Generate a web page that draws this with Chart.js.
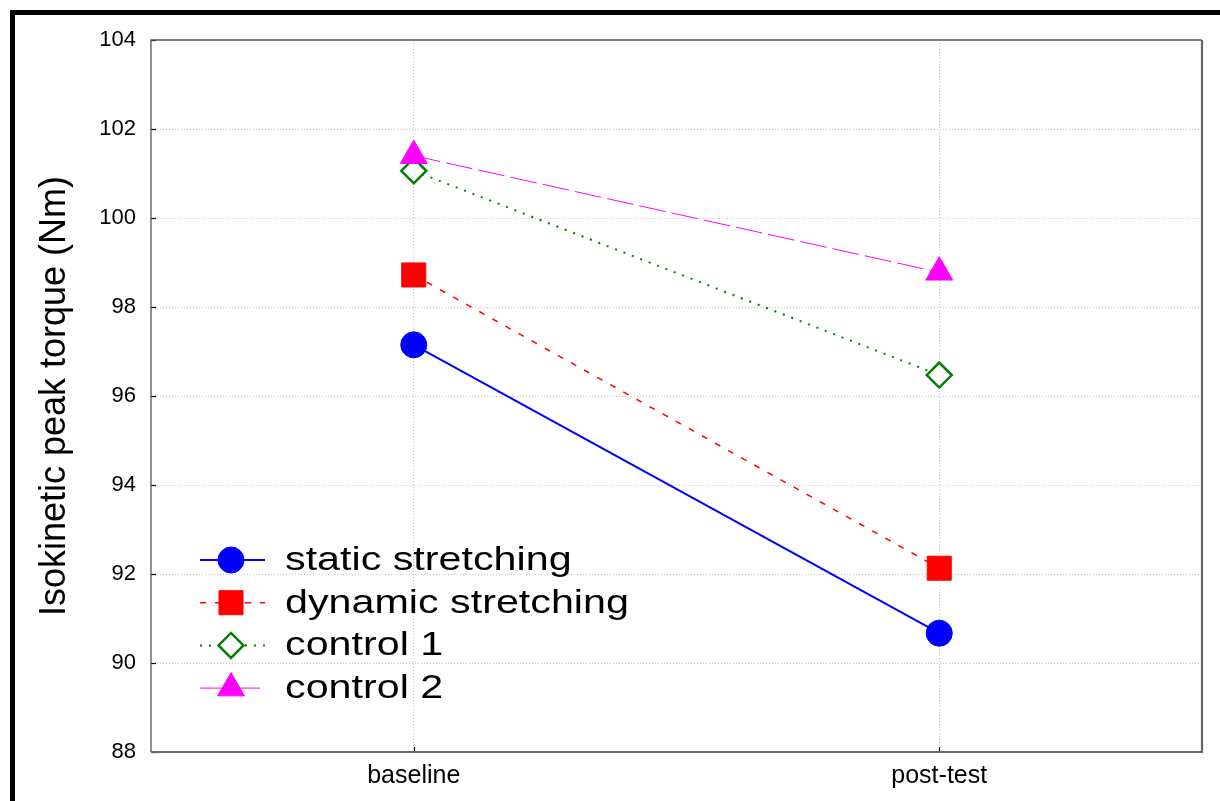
<!DOCTYPE html>
<html>
<head>
<meta charset="utf-8">
<script src="https://cdn.jsdelivr.net/npm/chart.js@4/dist/chart.umd.min.js"></script>
<style>
  html, body { margin: 0; padding: 0; background: #fff; }
  #wrap { position: relative; width: 1220px; height: 801px; overflow: hidden; }
  #frame { position: absolute; left: 10px; top: 10px; width: 1215px; height: 796px;
           border-left: 5px solid #000; border-top: 5px solid #000; pointer-events: none; box-sizing: border-box; }
  canvas { position: absolute; left: 0; top: 0; }
</style>
</head>
<body>
<div id="wrap">
  <canvas id="c" width="1220" height="801"></canvas>
  <div id="frame"></div>
</div>
<script>
// ---- data ----
const categories = ['baseline', 'post-test'];
const seriesNames = ['static stretching', 'dynamic stretching', 'control 1', 'control 2'];
const staticStretching = [97.15, 90.67];
const dynamicStretching = [98.72, 92.13];
const control1 = [101.06, 96.47];
const control2 = [101.4, 98.78];
const yTickMin = 88;
const yTickMax = 104;
const yTickStep = 2;
const yAxisTitle = 'Isokinetic peak torque (Nm)';

const FONT = '"Liberation Sans", Arial, Helvetica, sans-serif';

const datasets = [
  { label: seriesNames[0], data: staticStretching, borderColor: '#0000ff', backgroundColor: '#0000ff',
    borderWidth: 2, borderDash: [], pointStyle: 'circle', pointRadius: 13, pointBorderWidth: 1, order: 3 },
  { label: seriesNames[1], data: dynamicStretching, borderColor: '#ff0000', backgroundColor: '#ff0000',
    borderWidth: 1.5, borderDash: [6, 9], pointStyle: 'rect', pointRadius: 17, pointBorderWidth: 1, order: 2 },
  { label: seriesNames[2], data: control1, borderColor: '#008000', backgroundColor: '#ffffff',
    borderWidth: 2, borderDash: [2, 7], pointStyle: 'rectRot', pointRadius: 12.5, pointBorderWidth: 2.5,
    pointBorderColor: '#008000', order: 1 },
  { label: seriesNames[3], data: control2, borderColor: '#ff00ff', backgroundColor: '#ff00ff',
    borderWidth: 1, borderDash: [27, 6], pointStyle: 'triangle', pointRadius: 15.5, pointBorderWidth: 1, order: 0 }
];
datasets.forEach(d => { d.fill = false; d.tension = 0; d.pointBackgroundColor = d.backgroundColor;
  if (!d.pointBorderColor) d.pointBorderColor = d.borderColor; d.pointHoverRadius = d.pointRadius; });

const framePlugin = {
  id: 'framePlugin',
  beforeDatasetsDraw(chart) {
    const { ctx, chartArea: a, scales } = chart;
    ctx.save();
    ctx.strokeStyle = '#000';
    ctx.lineWidth = 1.2;
    ctx.setLineDash([]);
    scales.y.ticks.forEach(t => {
      const y = Math.round(scales.y.getPixelForValue(t.value)) + 0.5;
      ctx.beginPath(); ctx.moveTo(a.left, y); ctx.lineTo(a.left + 5, y); ctx.stroke();
    });
    categories.forEach((c, i) => {
      const x = Math.round(scales.x.getPixelForValue(i)) + 0.5;
      ctx.beginPath(); ctx.moveTo(x, a.bottom); ctx.lineTo(x, a.bottom - 5); ctx.stroke();
    });
    ctx.strokeStyle = '#555';
    ctx.lineWidth = 1.3;
    ctx.beginPath();
    ctx.moveTo(a.left, a.bottom); ctx.lineTo(a.left, a.top); ctx.lineTo(a.right, a.top);
    ctx.stroke();
    ctx.strokeStyle = '#666';
    ctx.lineWidth = 2.2;
    ctx.beginPath();
    ctx.moveTo(a.left, a.bottom); ctx.lineTo(a.right, a.bottom); ctx.lineTo(a.right, a.top);
    ctx.stroke();
    ctx.restore();
  }
};

const legendPlugin = {
  id: 'customLegend',
  afterDraw(chart) {
    const { ctx, chartArea: a } = chart;
    const x0 = a.left + 49, x1 = a.left + 114, xm = a.left + 80, xt = a.left + 134;
    const rowGap = 42.7;
    const yStart = a.bottom - 192;
    ctx.save();
    chart.data.datasets.forEach((d, i) => {
      const y = yStart + i * rowGap;
      ctx.strokeStyle = d.borderColor;
      ctx.lineWidth = d.borderWidth;
      ctx.setLineDash(d.borderDash || []);
      ctx.beginPath(); ctx.moveTo(x0, y); ctx.lineTo(x1, y); ctx.stroke();
      ctx.setLineDash([]);
      ctx.fillStyle = d.pointBackgroundColor;
      ctx.strokeStyle = d.pointBorderColor;
      ctx.lineWidth = d.pointBorderWidth;
      Chart.helpers.drawPoint(ctx, { pointStyle: d.pointStyle, radius: d.pointRadius, rotation: 0, borderWidth: d.pointBorderWidth }, xm, y);
      ctx.save();
      ctx.translate(xt, y);
      ctx.scale(1.25, 1);
      ctx.fillStyle = '#000';
      ctx.font = '33px ' + FONT;
      ctx.textBaseline = 'middle';
      ctx.textAlign = 'left';
      ctx.fillText(d.label, 0, 1);
      ctx.restore();
    });
    ctx.restore();
  }
};

new Chart(document.getElementById('c'), {
  type: 'line',
  data: { labels: categories, datasets },
  options: {
    responsive: false,
    devicePixelRatio: 1,
    animation: false,
    layout: { padding: { top: 40, right: 15, left: 0, bottom: 0 } },
    plugins: { legend: { display: false }, tooltip: { enabled: false }, title: { display: false } },
    scales: {
      x: {
        type: 'category',
        offset: true,
        afterFit(s) { s.height = 49; },
        grid: { offset: false, color: '#c4c4c4', lineWidth: 1, drawTicks: false },
        border: { display: false, dash: [1, 2] },
        ticks: { color: '#000', font: { family: FONT, size: 25 }, padding: 9, maxRotation: 0 }
      },
      y: {
        min: yTickMin, max: yTickMax,
        afterFit(s) { s.width = 151; },
        grid: { color: ctx => (ctx.tick && (ctx.tick.value === yTickMin || ctx.tick.value === yTickMax)) ? 'rgba(0,0,0,0)' : '#c4c4c4',
                lineWidth: 1, drawTicks: false },
        border: { display: false, dash: [1, 2] },
        ticks: { stepSize: yTickStep, color: '#000', font: { family: FONT, size: 22 }, padding: 15 },
        title: { display: true, text: yAxisTitle, color: '#000', font: { family: FONT, size: 36 },
                 padding: { top: 33, bottom: 0 } }
      }
    }
  },
  plugins: [framePlugin, legendPlugin]
});
</script>
</body>
</html>
